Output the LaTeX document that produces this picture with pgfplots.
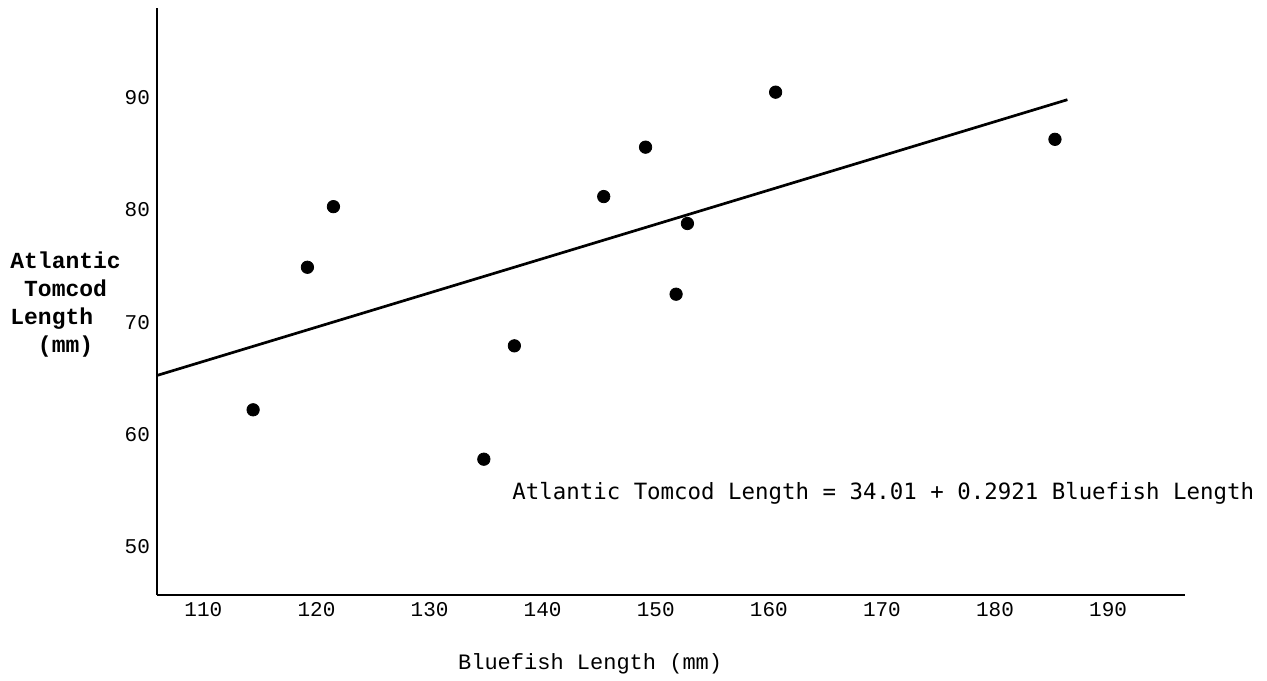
\documentclass[border=0pt]{standalone}
\usepackage{fontspec}
\setmainfont{Liberation Mono}
\newfontfamily\eqfont{DejaVu Sans Mono}
\usepackage{pgfplots}
\pgfplotsset{compat=1.18}

\begin{document}
\begin{tikzpicture}
\useasboundingbox (-78.5pt,-42.5pt) rectangle (555pt,297.5pt);
\begin{axis}[
    scale only axis, width=514pt, height=293.5pt,
    xmin=105.9, xmax=196.8, ymin=45.7, ymax=98.0,
    axis x line*=bottom, axis y line*=left,
    axis line style={-, line width=1.4pt},
    xtick={110,120,...,190}, ytick={50,60,...,90},
    major tick length=0pt,
    tick label style={font=\fontsize{10.5}{12}\selectfont},
    /pgf/number format/assume math mode=true,
    clip=false,
  ]
  % fitted line as drawn
  \addplot[black, line width=1.35pt] coordinates {(105.9,65.26) (186.4,89.83)};
  % observations
  \addplot[only marks, mark=*, mark size=3.1pt, black] coordinates {
    (114.4,62.2) (119.2,74.9) (121.5,80.3) (134.8,57.8) (137.5,67.9)
    (145.4,81.2) (149.1,85.6) (151.8,72.5) (152.8,78.8) (160.6,90.5)
    (185.3,86.3)};
  \node[anchor=west, font=\eqfont\fontsize{11.2}{13}\selectfont]
    at (axis cs:136.7,54.8) {Atlantic Tomcod Length = 34.01 + 0.2921 Bluefish Length};
  \node[font=\fontsize{11}{12}\selectfont] at (axis cs:144.2,39.6) {Bluefish Length (mm)};
  \node[anchor=north west, inner sep=0pt, align=left,
        font=\bfseries\fontsize{11.5}{13.9}\selectfont]
    at (axis cs:92.9,76.3) {Atlantic\\\ Tomcod\\Length\\\ \ (mm)};
\end{axis}
\end{tikzpicture}
\end{document}
